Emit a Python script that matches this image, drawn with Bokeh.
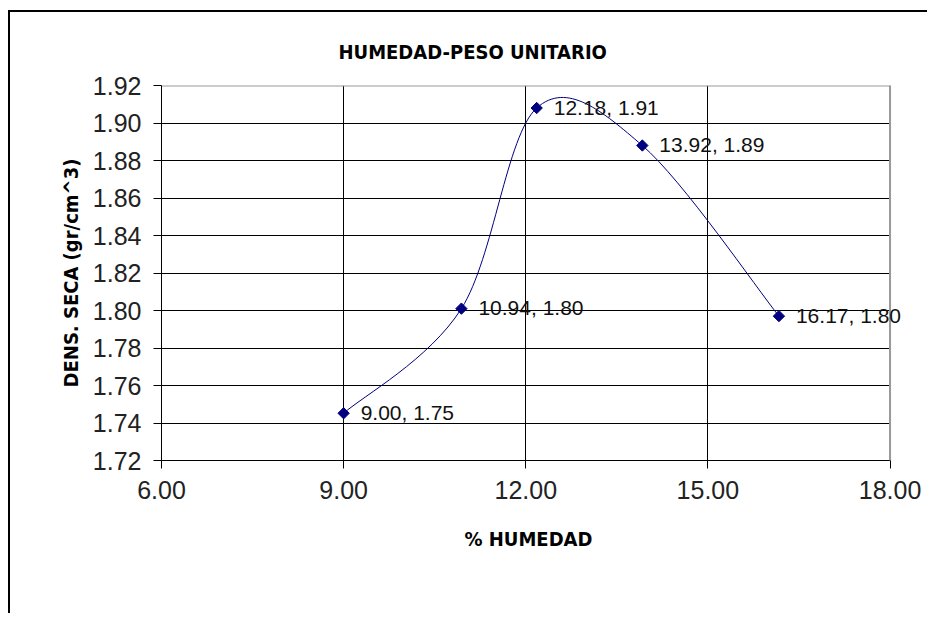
from bokeh.plotting import figure
from bokeh.models import (Range1d, FixedTicker, PrintfTickFormatter, ColumnDataSource, Label,
                          BoxAnnotation, Span, Title)
from bokeh.embed import file_html
from bokeh.resources import INLINE
import numpy as np

# data
humedad = [9.00, 10.94, 12.18, 13.92, 16.17]
densidad = [1.7452, 1.801, 1.908, 1.888, 1.797]
x_ticks = [6, 9, 12, 15, 18]
y_ticks = [1.72, 1.74, 1.76, 1.78, 1.80, 1.82, 1.84, 1.86, 1.88, 1.90, 1.92]
title_text = "HUMEDAD-PESO UNITARIO"
x_label = "% HUMEDAD"
y_label = "DENS. SECA (gr/cm^3)"

BOLD_FONT = "DejaVu Sans Condensed"
X_MIN, X_MAX = x_ticks[0], x_ticks[-1]
Y_MIN, Y_MAX = y_ticks[0], y_ticks[-1]
# range runs a little past the plot area so point labels may overhang its right edge
X_VIEW_MAX = X_MAX + 0.65

p = figure(width=919, height=603, output_backend="svg", toolbar_location=None,
           x_range=Range1d(X_MIN, X_VIEW_MAX), y_range=Range1d(Y_MIN, Y_MAX),
           min_border_left=151, min_border_right=0, min_border_top=73, min_border_bottom=155)
p.styles = {"border-left": "2px solid black", "border-top": "2px solid black",
            "margin-left": "8px", "margin-top": "10px"}

p.title.text = title_text
p.title.align = "left"
p.title.offset = 177
p.title.text_font = BOLD_FONT
p.title.text_font_style = "bold"
p.title.text_font_size = "20px"
p.title.text_color = "black"
p.title.standoff = 44

p.background_fill_color = "white"
p.border_fill_color = "white"
p.outline_line_color = None

for ax in (p.xaxis[0], p.yaxis[0]):
    ax.axis_line_color = "black"
    ax.axis_line_width = 1
    ax.major_tick_line_color = "black"
    ax.major_tick_out = 8
    ax.major_tick_in = 0
    ax.minor_tick_line_color = None
    ax.major_label_text_font = "Liberation Sans"
    ax.major_label_text_font_size = "25px"
    ax.major_label_text_color = "#222222"
    ax.axis_label_text_font = BOLD_FONT
    ax.axis_label_text_font_style = "bold"
    ax.axis_label_text_font_size = "20px"
    ax.axis_label_text_color = "black"

p.xaxis.bounds = (X_MIN, X_MAX)
p.xaxis.ticker = FixedTicker(ticks=x_ticks)
p.yaxis.ticker = FixedTicker(ticks=y_ticks)
p.xaxis.formatter = PrintfTickFormatter(format="%.2f")
p.yaxis.formatter = PrintfTickFormatter(format="%.2f")
p.xaxis.major_label_standoff = 12
p.yaxis.major_label_standoff = 12
p.yaxis.axis_label = y_label
p.yaxis.axis_label_standoff = 7

# x-axis title, centred under the 6-18 axis span
p.add_layout(Title(text=x_label, align="left", offset=303, text_font=BOLD_FONT,
                   text_font_style="bold", text_font_size="20px", text_color="black",
                   standoff=46), "below")

p.xgrid.ticker = FixedTicker(ticks=x_ticks)
p.ygrid.ticker = FixedTicker(ticks=y_ticks)
for g in (p.xgrid[0], p.ygrid[0]):
    g.grid_line_color = "black"
    g.grid_line_width = 1
    g.grid_line_alpha = 1

# white-out the strip past the plot area, then the gray plot-area border (top, right)
p.add_layout(BoxAnnotation(left=X_MAX, fill_color="white", fill_alpha=1,
                           line_color=None, level="underlay"))
p.segment(x0=[X_MIN], y0=[Y_MAX], x1=[X_MAX], y1=[Y_MAX], line_color="#999999", line_width=2)
p.add_layout(Span(location=X_MAX, dimension="height", line_color="#999999", line_width=2))

# smoothed line (Catmull-Rom style Bezier, as spreadsheet smoothing)
xs = np.array(humedad)
ys = np.array(densidad)
xp = np.concatenate([[xs[0]], xs, [xs[-1]]])
yp = np.concatenate([[ys[0]], ys, [ys[-1]]])
n = len(xs)
x0 = xs[:-1]; y0 = ys[:-1]; x1 = xs[1:]; y1 = ys[1:]
cx0 = xp[1:n] + (xp[2:n+1] - xp[0:n-1]) / 6.0
cy0 = yp[1:n] + (yp[2:n+1] - yp[0:n-1]) / 6.0
cx1 = xp[2:n+1] - (xp[3:n+2] - xp[1:n]) / 6.0
cy1 = yp[2:n+1] - (yp[3:n+2] - yp[1:n]) / 6.0
p.bezier(x0=x0, y0=y0, x1=x1, y1=y1, cx0=cx0, cy0=cy0, cx1=cx1, cy1=cy1,
         line_color="#000080", line_width=1)

src = ColumnDataSource(dict(x=humedad, y=densidad))
p.scatter("x", "y", source=src, marker="square", angle=np.pi / 4, size=8,
          fill_color="#000080", line_color="#000080")
for a, b in zip(humedad, densidad):
    p.add_layout(Label(x=a, y=b, text=f"{a:.2f}, {b:.2f}", x_offset=17, y_offset=1,
                       text_font="Liberation Sans", text_font_size="21px",
                       text_baseline="middle", text_color="#111111"))

open("out.html", "w").write(file_html(p, INLINE))
